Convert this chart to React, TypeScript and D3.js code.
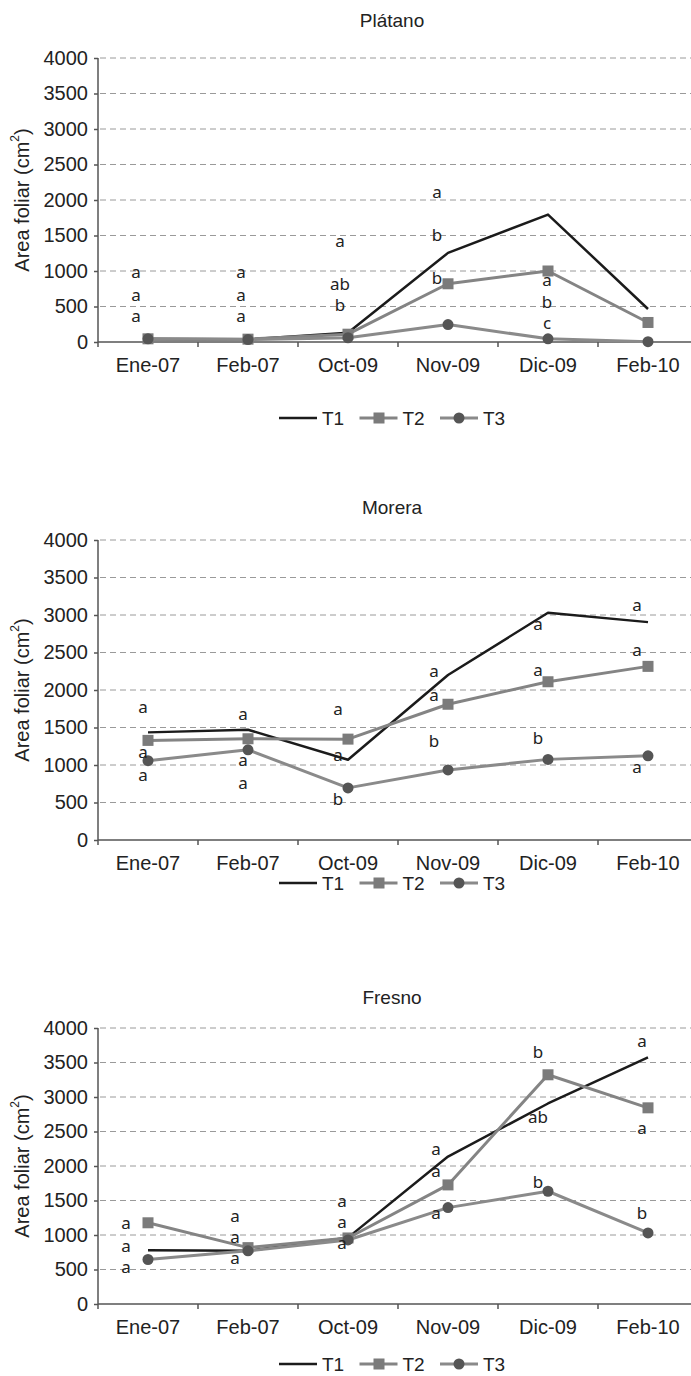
import React, { useEffect, useRef } from 'react';
import * as d3 from 'd3';

// Sampling dates shown on the x axis
const categories = ['Ene-07', 'Feb-07', 'Oct-09', 'Nov-09', 'Dic-09', 'Feb-10'];
const yTickValues = [0, 500, 1000, 1500, 2000, 2500, 3000, 3500, 4000];
const seriesNames = ['T1', 'T2', 'T3'];

// Plátano
const platanoT1 = [40, 35, 130, 1255, 1795, 465];
const platanoT2 = [45, 40, 110, 820, 1000, 275];
const platanoT3 = [45, 35, 60, 245, 45, 5];
const platanoLetters = [
  [0, 'a', 965], [0, 'a', 645], [0, 'a', 353],
  [1, 'a', 965], [1, 'a', 645], [1, 'a', 353],
  [2, 'a', 1407], [2, 'ab', 809], [2, 'b', 503],
  [3, 'a', 2094], [3, 'b', 1492], [3, 'b', 894],
  [4, 'a', 856], [4, 'b', 551], [4, 'c', 250],
];

// Morera
const moreraT1 = [1435, 1470, 1070, 2200, 3030, 2905];
const moreraT2 = [1328, 1350, 1345, 1810, 2110, 2315];
const moreraT3 = [1058, 1203, 695, 934, 1075, 1122];
const moreraLetters = [
  [0, 'a', 1760], [0, 'a', 1160], [0, 'a', 852],
  [1, 'a', 1667], [1, 'a', 1054], [1, 'a', 745],
  [2, 'a', 1729], [2, 'a', 1117], [2, 'b', 527],
  [3, 'a', 2234], [3, 'a', 1921], [3, 'b', 1309],
  [4, 'a', 2873], [4, 'a', 2256], [4, 'b', 1345],
  [5, 'a', 3119], [5, 'a', 2516], [5, 'a', 965],
];

// Fresno
const fresnoT1 = [780, 770, 962, 2137, 2906, 3573];
const fresnoT2 = [1177, 817, 957, 1726, 3322, 2843];
const fresnoT3 = [645, 771, 928, 1397, 1634, 1030];
const fresnoLetters = [
  [0, 'a', 1153], [0, 'a', 829], [0, 'a', 525],
  [1, 'a', 1262], [1, 'a', 952], [1, 'a', 645],
  [2, 'a', 1485], [2, 'a', 1180], [2, 'a', 866],
  [3, 'a', 2229], [3, 'a', 1915], [3, 'a', 1301],
  [4, 'b', 3632], [4, 'ab', 2689], [4, 'b', 1760],
  [5, 'a', 3791], [5, 'a', 2534], [5, 'b', 1301],
];

// Layout of the three stacked panels (pixels)
const panels = [
  { title: 'Plátano', series: [platanoT1, platanoT2, platanoT3], letters: platanoLetters,
    titleY: 27, top: 58, bottom: 342, legendY: 418, shift: [-12, -7, -8, -11, -1, 0] },
  { title: 'Morera', series: [moreraT1, moreraT2, moreraT3], letters: moreraLetters,
    titleY: 514, top: 540, bottom: 840, legendY: 883, shift: [-5, -5, -10, -14, -10, -11] },
  { title: 'Fresno', series: [fresnoT1, fresnoT2, fresnoT3], letters: fresnoLetters,
    titleY: 1004, top: 1028, bottom: 1304, legendY: 1364, shift: [-22, -13, -6, -12, -10, -6] },
];

const W = 691;
const H = 1376;
const plotLeft = 98;
const plotRight = 698;
const centerX = 392;

const FONT = '"Liberation Sans", Arial, sans-serif';
const LETTER_FONT = '"Noto Sans", "Open Sans", sans-serif';

const styles = [
  { stroke: '#1b1b1b', width: 2.5, marker: null, fill: null },
  { stroke: '#848484', width: 3, marker: 'square', fill: '#7b7b7b' },
  { stroke: '#8a8a8a', width: 3, marker: 'circle', fill: '#555555' },
];

const App = () => {
  const svgRef = useRef(null);

  useEffect(() => {
    const svg = d3.select(svgRef.current);
    svg.selectAll('*').remove();

    const x = d3.scaleBand().domain(categories).range([plotLeft, plotRight]);
    const cx = (i) => x(categories[i]) + x.bandwidth() / 2;

    panels.forEach((p) => {
      const y = d3.scaleLinear().domain([0, 4000]).range([p.bottom, p.top]);
      const g = svg.append('g');

      // Title
      g.append('text')
        .attr('x', centerX).attr('y', p.titleY)
        .attr('text-anchor', 'middle')
        .style('font-family', FONT).style('font-size', '19px').style('fill', '#222')
        .text(p.title);

      // Dashed gridlines
      g.selectAll('line.grid')
        .data(yTickValues.filter((v) => v > 0))
        .join('line')
        .attr('class', 'grid')
        .attr('x1', plotLeft + 2).attr('x2', plotRight)
        .attr('y1', (d) => y(d)).attr('y2', (d) => y(d))
        .attr('stroke', '#9a9a9a').attr('stroke-width', 1)
        .attr('stroke-dasharray', '6,4');

      // Y axis
      const yAxis = d3.axisLeft(y).tickValues(yTickValues).tickSize(4).tickPadding(6).tickFormat(d3.format('d'));
      const ya = g.append('g').attr('transform', `translate(${plotLeft},0)`).call(yAxis);
      ya.select('.domain').remove();
      ya.selectAll('line').attr('stroke', '#555').attr('stroke-width', 1.5);
      ya.selectAll('text').style('font-family', FONT).style('font-size', '20px').style('fill', '#222');
      g.append('line')
        .attr('x1', plotLeft).attr('x2', plotLeft)
        .attr('y1', p.top).attr('y2', p.bottom + 5)
        .attr('stroke', '#555').attr('stroke-width', 1.5);

      // Y axis title
      const yt = g.append('text')
        .attr('transform', `translate(22,${(p.top + p.bottom) / 2}) rotate(-90)`)
        .attr('text-anchor', 'middle')
        .attr('dominant-baseline', 'central')
        .style('font-family', FONT).style('font-size', '20px').style('fill', '#222');
      yt.append('tspan').text('Area foliar (cm');
      yt.append('tspan').attr('baseline-shift', 'super').style('font-size', '12px').text('2');
      yt.append('tspan').text(')');

      // X axis line, boundary ticks and labels
      g.append('line')
        .attr('x1', plotLeft).attr('x2', plotRight)
        .attr('y1', p.bottom).attr('y2', p.bottom)
        .attr('stroke', '#555').attr('stroke-width', 1.5);
      g.selectAll('line.xtick')
        .data(categories.slice(1).concat(['end']))
        .join('line')
        .attr('class', 'xtick')
        .attr('x1', (d) => (d === 'end' ? plotRight : x(d)))
        .attr('x2', (d) => (d === 'end' ? plotRight : x(d)))
        .attr('y1', p.bottom).attr('y2', p.bottom + 5)
        .attr('stroke', '#555').attr('stroke-width', 1.5);
      g.selectAll('text.xlabel')
        .data(categories)
        .join('text')
        .attr('class', 'xlabel')
        .attr('x', (d, i) => cx(i)).attr('y', p.bottom + 30)
        .attr('text-anchor', 'middle')
        .style('font-family', FONT).style('font-size', '20px').style('fill', '#222')
        .text((d) => d);

      // Series lines
      const line = d3.line().x((d, i) => cx(i)).y((d) => y(d));
      p.series.forEach((vals, si) => {
        const s = styles[si];
        g.append('path')
          .datum(vals)
          .attr('d', line)
          .attr('fill', 'none')
          .attr('stroke', s.stroke)
          .attr('stroke-width', s.width)
          .attr('stroke-linejoin', 'round');
      });
      // Markers for T2 (squares) and T3 (circles)
      [1, 2].forEach((si) => {
        const s = styles[si];
        const vals = p.series[si];
        if (s.marker === 'square') {
          g.selectAll(`rect.m${si}`)
            .data(vals)
            .join('rect')
            .attr('class', `m${si}`)
            .attr('x', (d, i) => cx(i) - 5.5).attr('y', (d) => y(d) - 5.5)
            .attr('width', 11).attr('height', 11)
            .attr('fill', s.fill);
        } else {
          g.selectAll(`circle.m${si}`)
            .data(vals)
            .join('circle')
            .attr('class', `m${si}`)
            .attr('cx', (d, i) => cx(i)).attr('cy', (d) => y(d))
            .attr('r', 5.5)
            .attr('fill', s.fill);
        }
      });

      // Significance letters
      g.selectAll('text.letter')
        .data(p.letters)
        .join('text')
        .attr('class', 'letter')
        .attr('x', (d) => cx(d[0]) + p.shift[d[0]])
        .attr('y', (d) => y(d[2]) + 5)
        .attr('text-anchor', 'middle')
        .style('font-family', LETTER_FONT).style('font-size', '17px').style('fill', '#222')
        .text((d) => d[1]);

      // Legend
      const lg = g.append('g').attr('transform', `translate(279,${p.legendY})`);
      seriesNames.forEach((name, si) => {
        const s = styles[si];
        const it = lg.append('g').attr('transform', `translate(${si * 80.5},0)`);
        it.append('line')
          .attr('x1', 0).attr('x2', 38).attr('y1', 0).attr('y2', 0)
          .attr('stroke', s.stroke).attr('stroke-width', s.width);
        if (s.marker === 'square') {
          it.append('rect').attr('x', 14).attr('y', -5.5).attr('width', 11).attr('height', 11).attr('fill', s.fill);
        } else if (s.marker === 'circle') {
          it.append('circle').attr('cx', 19).attr('cy', 0).attr('r', 5.5).attr('fill', s.fill);
        }
        it.append('text')
          .attr('x', 43).attr('y', 7)
          .style('font-family', FONT).style('font-size', '19px').style('fill', '#222')
          .text(name);
      });
    });
  }, []);

  return (
    <svg
      ref={svgRef}
      width={W}
      height={H}
      style={{ position: 'absolute', left: 0, top: 0, background: '#fff' }}
    />
  );
};

export default App;
